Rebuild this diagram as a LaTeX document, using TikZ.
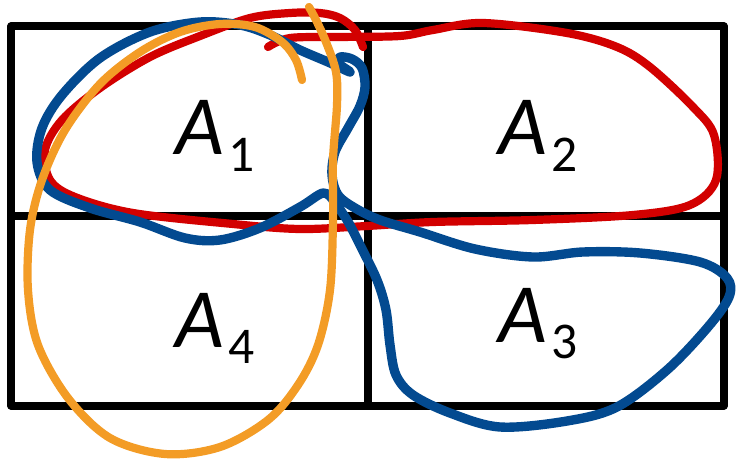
\documentclass[tikz,border=0pt]{standalone}
\usepackage{fontspec}
\setmainfont{Carlito}
\definecolor{penred}{HTML}{D20000}
\definecolor{penblue}{HTML}{034A90}
\definecolor{penorange}{HTML}{F39C26}
\newcommand{\setname}[1]{\fontsize{72}{80}\selectfont\textit{A}\hspace{0.06em}\raisebox{-0.2em}{\fontsize{44}{48}\selectfont #1}}
\begin{document}
\begin{tikzpicture}[
    x=0.03cm, y=-0.03cm,
    grid/.style={draw=black, line width=6pt, line join=round},
    pen/.style={line width=7pt, line cap=round, line join=round, smooth, tension=0.55},
    lbl/.style={anchor=base west, inner sep=0pt, outer sep=0pt}
]
    \useasboundingbox (0,0) rectangle (737,461);

    % table of the four sets
    \draw[grid] (11,26) rectangle (724,406);
    \draw[grid] (368,26) -- (368,406);
    \draw[grid] (11,216) -- (724,216);

    \node[lbl] (a1) at (175,155) {\setname{1}};
    \node[lbl] (a2) at (498,155) {\setname{2}};
    \node[lbl] (a4) at (175,347) {\setname{4}};
    \node[lbl] (a3) at (498,342) {\setname{3}};

    % red: A1 and A2
    \draw[pen, penred] plot coordinates {
        (363,47) (355,30) (340,18) (320,13) (290,13) (250,18) (200,36)
        (150,57) (100,88) (62,120) (45,150) (50,180) (75,197) (133,213)
        (233,224) (300,229) (367,226) (433,222) (533,220) (633,215)
        (690,205) (716,180) (714,135) (693,107) (650,67) (617,47)
        (567,33) (483,23) (433,30) (400,36) (340,37) (290,38) (268,47)};

    % blue: A1 and A3
    \draw[pen, penblue, line width=8pt] plot coordinates {
        (333,200) (347,220) (360,245) (377,280) (386,310) (390,345)
        (396,375) (413,395) (450,413) (500,427) (567,421) (617,407)
        (667,370) (708,327) (729,297) (727,278) (700,262) (640,253)
        (583,252) (533,257) (475,249) (420,232) (380,220) (355,208)
        (338,195) (332,175) (335,152) (348,128) (360,106) (365,87)
        (362,68) (352,59) (340,57) (338,63) (350,72) (328,62) (300,50)
        (270,35) (240,25) (200,22) (150,32) (100,58) (62,95) (42,128)
        (37,162) (50,190) (90,208) (140,222) (185,238) (220,240)
        (260,228) (300,207) (323,193) (333,200)};

    % orange: A1 and A4
    \draw[pen, penorange] plot coordinates {
        (302,80) (296,60) (282,42) (255,27) (220,24) (180,32) (140,52)
        (100,84) (65,130) (42,180) (30,230) (28,290) (38,345) (68,398)
        (110,438) (165,454) (220,447) (268,420) (298,385) (318,345)
        (330,290) (333,220) (333,160) (337,105) (336,72) (326,42)
        (316,20) (309,7)};
\end{tikzpicture}
\end{document}
